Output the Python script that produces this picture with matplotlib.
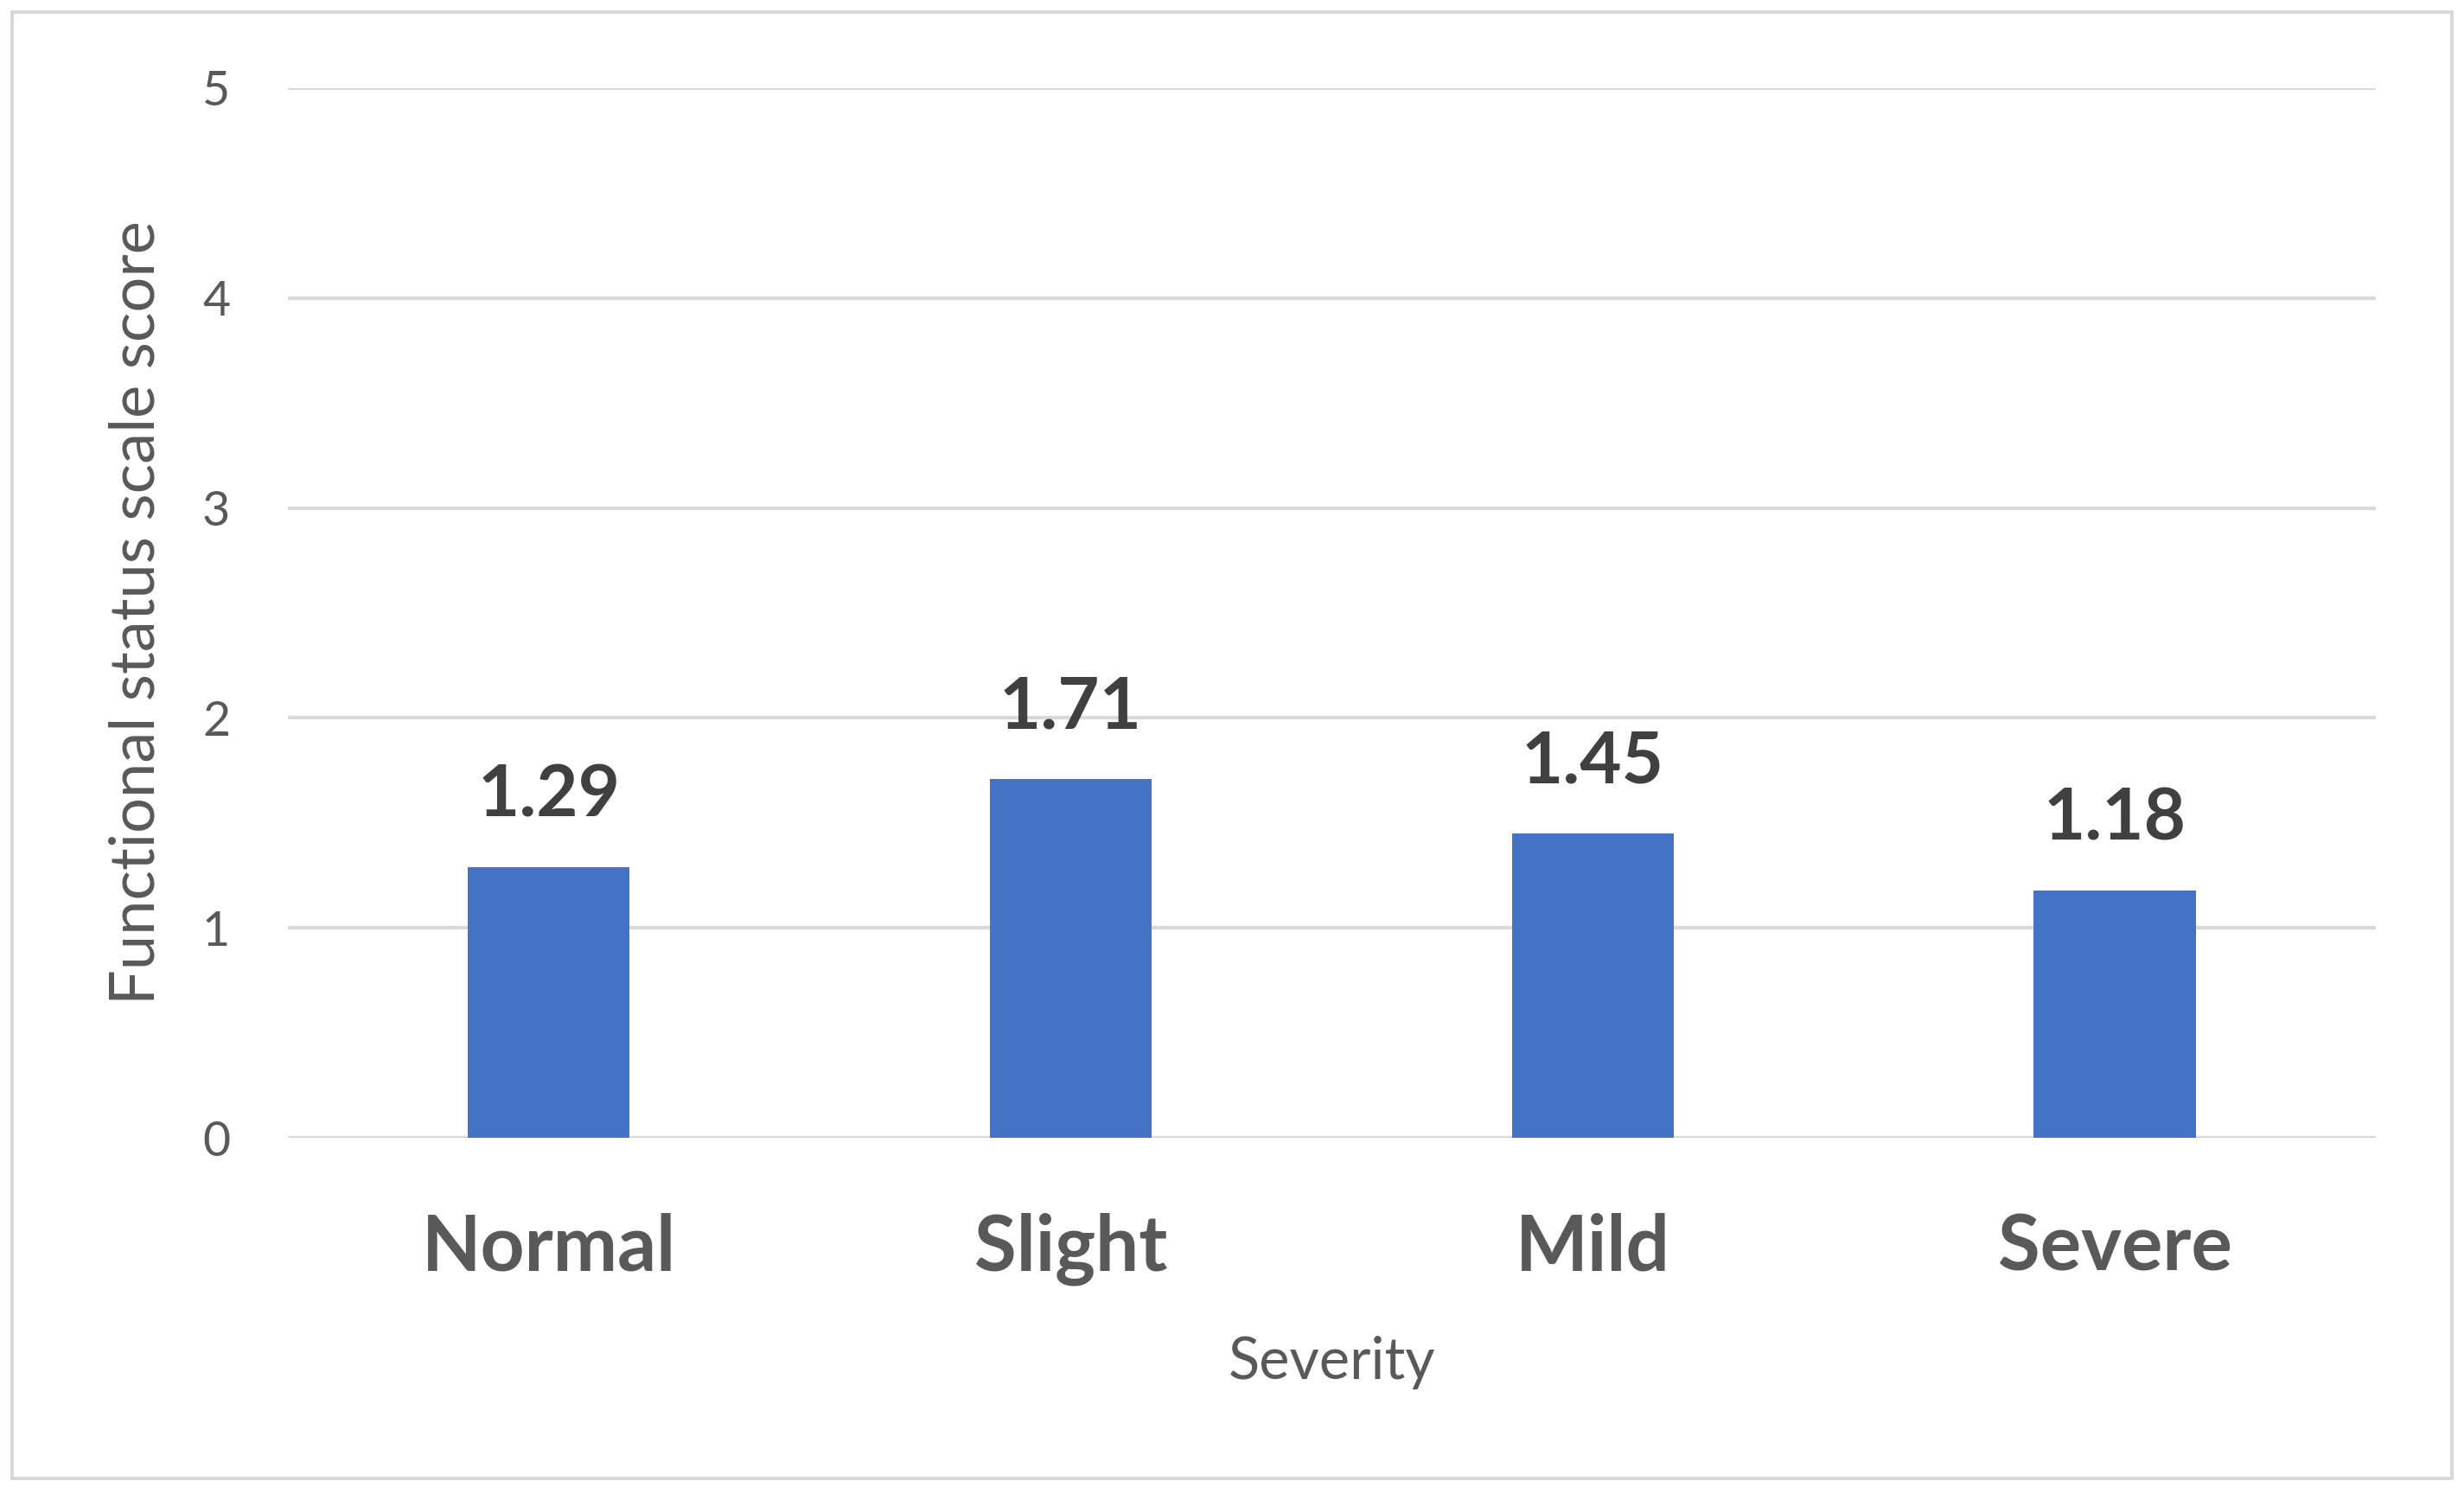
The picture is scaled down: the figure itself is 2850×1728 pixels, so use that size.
import matplotlib.pyplot as plt
from matplotlib.patches import Rectangle

# chart data
categories = ["Normal", "Slight", "Mild", "Severe"]
scores = [1.29, 1.71, 1.45, 1.18]
y_ticks = [0, 1, 2, 3, 4, 5]

BAR_COLOR = "#4472C4"
GRID_COLOR = "#D9D9D9"
TEXT_GRAY = "#595959"
LABEL_DARK = "#404040"

plt.rcParams["font.family"] = ["Lato", "DejaVu Sans"]

fig = plt.figure(figsize=(28.5, 17.28), dpi=100)
ax = fig.add_axes([0.1168, 0.2384, 0.8474, 0.7026])

x = range(len(categories))
bars = ax.bar(x, scores, width=0.31, color=BAR_COLOR, zorder=3)

ax.set_xlim(-0.5, len(categories) - 0.5)
ax.set_ylim(0, 5)
ax.set_yticks(y_ticks)
ax.set_yticklabels([str(t) for t in y_ticks], fontsize=40, color=TEXT_GRAY)
ax.set_xticks(list(x))
ax.set_xticklabels(categories, fontsize=64, fontweight="bold", color=TEXT_GRAY)
ax.tick_params(axis="y", length=0, pad=48)
ax.tick_params(axis="x", length=0, pad=62)

ax.grid(axis="y", color=GRID_COLOR, linewidth=3, zorder=0)
for side in ax.spines.values():
    side.set_visible(False)

for bar, val in zip(bars, scores):
    ax.annotate(f"{val:.2f}", (bar.get_x() + bar.get_width() / 2, val),
                xytext=(0, 42), textcoords="offset points",
                ha="center", va="baseline", fontsize=60,
                fontweight="bold", color=LABEL_DARK)

ax.set_xlabel("Severity", fontsize=48, color=TEXT_GRAY, labelpad=42)
ax.set_ylabel("Functional status scale score", fontsize=52, color=TEXT_GRAY, labelpad=31)

# light frame round the whole chart
fig.patches.append(Rectangle((14 / 2850, 18 / 1728), 2822 / 2850, 1696 / 1728,
                             transform=fig.transFigure, fill=False,
                             edgecolor=GRID_COLOR, linewidth=3))

fig.savefig("out.png", dpi=100)
